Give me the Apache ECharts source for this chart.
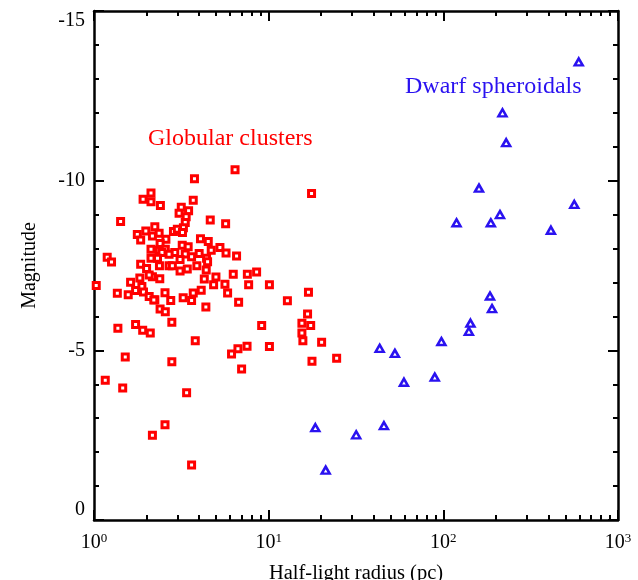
<!DOCTYPE html>
<html>
<head>
<meta charset="utf-8">
<script src="https://cdn.jsdelivr.net/npm/echarts@6/dist/echarts.min.js"></script>
<style>
html,body{margin:0;padding:0;background:#fff;}
#chart{width:638px;height:580px;}
</style>
</head>
<body>
<div id="chart"></div>
<script>
// Globular clusters: half-light radius (pc) and magnitude
var gcRadius = [17.6,16.9,16.7,15.5,17.4,15.5,15.7,20.1,24.5,17.7,12.8,6.42,3.76,2.12,1.91,2.12,2.40,3.70,3.16,3.48,3.07,3.37,4.63,5.67,1.42,3.33,3.25,2.23,1.98,1.77,2.36,2.16,1.85,2.58,2.85,3.00,3.21,2.39,4.07,4.51,2.12,2.36,3.20,3.46,2.56,5.26,5.70,6.55,4.69,4.41,4.00,2.90,2.69,2.45,3.33,2.12,2.31,3.11,3.62,1.19,1.26,1.85,2.00,2.37,2.69,2.81,3.11,3.42,3.88,4.47,4.39,1.83,2.16,2.38,2.07,1.62,4.28,4.99,6.27,7.55,8.53,10.1,7.68,5.62,4.84,1.03,1.88,1.36,1.57,1.73,1.92,2.07,2.23,2.55,2.75,3.24,3.70,3.62,4.11,5.82,6.73,4.37,1.37,1.73,1.90,2.10,2.79,2.39,2.56,2.20,3.80,9.12,6.13,6.67,7.52,10.1,7.00,1.51,2.79,1.16,1.46,3.39,2.55,2.16,3.62];
var gcMag = [-9.62,-6.71,-6.07,-5.80,-5.73,-5.51,-5.28,-5.24,-4.77,-4.68,-6.46,-10.32,-10.06,-9.64,-9.45,-9.38,-9.27,-9.42,-9.22,-9.11,-9.04,-8.94,-8.84,-8.73,-8.80,-8.77,-8.61,-8.64,-8.52,-8.41,-8.45,-8.37,-8.25,-8.27,-8.50,-8.57,-8.47,-8.15,-8.29,-8.21,-7.98,-7.95,-8.10,-8.05,-7.98,-8.03,-7.87,-7.78,-7.95,-7.71,-7.85,-7.88,-7.83,-7.88,-7.84,-7.71,-7.71,-7.68,-7.76,-7.74,-7.60,-7.54,-7.41,-7.49,-7.49,-7.49,-7.34,-7.40,-7.49,-7.61,-7.37,-7.13,-7.17,-7.11,-7.22,-7.01,-7.10,-7.16,-7.24,-7.24,-7.31,-6.93,-6.93,-6.95,-6.93,-6.91,-6.88,-6.68,-6.64,-6.76,-6.72,-6.59,-6.49,-6.70,-6.47,-6.55,-6.69,-6.47,-6.77,-6.69,-6.42,-6.28,-5.65,-5.76,-5.59,-5.51,-5.83,-6.22,-6.14,-6.48,-5.28,-5.73,-4.89,-5.05,-5.12,-5.11,-4.45,-4.80,-4.66,-4.12,-3.89,-3.75,-2.81,-2.50,-1.62];

// Dwarf spheroidals
var dsRadius = [596,218,229,160,562,211,119,187,413,185,190,143,140,97.5,43.2,52.8,59.5,89.3,18.5,31.7,45.7,21.2];
var dsMag = [-13.50,-12.00,-11.12,-9.78,-9.30,-9.00,-8.76,-8.76,-8.54,-6.60,-6.23,-5.80,-5.56,-5.26,-5.06,-4.91,-4.06,-4.21,-2.72,-2.51,-2.78,-1.47];

// Axis ticks
var xMajorTicks = [1, 10, 100, 1000];
var xMinorTicks = [2,3,4,5,6,7,8,9,20,30,40,50,60,70,80,90,200,300,400,500,600,700,800,900];
var yTicks = [-15, -10, -5, 0];

var labels = {gc: 'Globular clusters', ds: 'Dwarf spheroidals', x: 'Half-light radius (pc)', y: 'Magnitude'};

var RED = '#ff0000';
var BLUE = '#2a12f0';
var FONT = '"Liberation Serif", "DejaVu Serif", serif';

function pairs(a, b) { return a.map(function (v, i) { return [v, b[i]]; }); }

var chart = echarts.init(document.getElementById('chart'), null, {renderer: 'canvas'});

var lineStyle = {color: '#000', width: 2.5};
function xAx(pos, minor, showLabel, name) {
  var ax = {
    type: 'log', logBase: 10, min: 1, max: 1000, position: pos,
    axisLine: {show: !minor, lineStyle: lineStyle, onZero: false},
    axisTick: {show: true, inside: true, length: minor ? 5 : 10,
      customValues: minor ? xMinorTicks : xMajorTicks,
      lineStyle: {color: '#000', width: 2}},
    splitLine: {show: false},
    axisLabel: {show: false}
  };
  if (showLabel) {
    ax.axisLabel = {
      show: true, margin: 12, customValues: xMajorTicks,
      formatter: function (v) { return '{b|10}{s|' + Math.round(Math.log10(v)) + '}'; },
      rich: {
        b: {fontSize: 20, fontFamily: FONT, color: '#000', lineHeight: 22},
        s: {fontSize: 13, fontFamily: FONT, color: '#000', verticalAlign: 'top', lineHeight: 22, padding: [0, 0, 9, 0]}
      }
    };
    ax.name = name;
    ax.nameLocation = 'middle';
    ax.nameGap = 43;
    ax.nameTextStyle = {fontSize: 20.5, fontFamily: FONT, color: '#000'};
  }
  return ax;
}
function yAx(pos, showLabel, name) {
  var ax = {
    type: 'value', min: -15, max: 0, interval: 5, inverse: true, position: pos,
    axisLine: {show: true, lineStyle: lineStyle, onZero: false},
    axisTick: {show: true, inside: true, length: 10, lineStyle: {color: '#000', width: 2}},
    minorTick: {show: true, splitNumber: 5, length: 5, lineStyle: {color: '#000', width: 2}},
    splitLine: {show: false},
    axisLabel: {show: false}
  };
  if (showLabel) {
    ax.axisLabel = {show: true, margin: 9, fontSize: 20, fontFamily: FONT, color: '#000',
      customValues: yTicks,
      formatter: function (v) { return String(v); },
      verticalAlignMinLabel: 'top', verticalAlignMaxLabel: 'bottom'};
    ax.name = name;
    ax.nameLocation = 'middle';
    ax.nameGap = 54;
    ax.nameTextStyle = {fontSize: 20, fontFamily: FONT, color: '#000'};
  }
  return ax;
}

var option = {
  backgroundColor: '#fff',
  animation: false,
  grid: {left: 94, right: 20, top: 11, bottom: 60, outerBoundsMode: 'none', containLabel: false},
  xAxis: [
    xAx('bottom', false, true, labels.x),
    xAx('bottom', true, false),
    xAx('top', false, false),
    xAx('top', true, false)
  ],
  yAxis: [
    yAx('left', true, labels.y),
    yAx('right', false)
  ],
  series: [
    {
      type: 'scatter', xAxisIndex: 0, yAxisIndex: 0,
      data: pairs(gcRadius, gcMag),
      symbol: 'rect', symbolSize: 6,
      itemStyle: {color: '#fff', borderColor: RED, borderWidth: 3, opacity: 1},
      z: 3
    },
    {
      type: 'scatter', xAxisIndex: 0, yAxisIndex: 0,
      data: pairs(dsRadius, dsMag),
      symbol: 'triangle', symbolSize: [8, 7],
      itemStyle: {color: '#fff', borderColor: BLUE, borderWidth: 2.5, opacity: 1},
      z: 3
    }
  ],
  graphic: [
    {type: 'text', left: 148, top: 127, style: {text: labels.gc, fill: RED, font: '24px ' + FONT}},
    {type: 'text', left: 405, top: 75, style: {text: labels.ds, fill: BLUE, font: '24px ' + FONT}}
  ]
};
chart.setOption(option);
</script>
</body>
</html>
